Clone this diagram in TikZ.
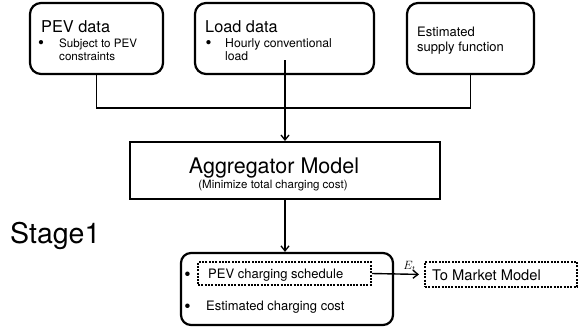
\documentclass[tikz,border=0pt]{standalone}
\usepackage{fontspec}
\setmainfont{TeX Gyre Heros}
\usetikzlibrary{arrows.meta}
\tikzset{
  rbox/.style={draw, line width=2.2pt, rounded corners=11pt, inner sep=0pt},
  sbox/.style={draw, line width=2pt, inner sep=0pt},
  dbox/.style={draw, line width=2pt, dash pattern=on 2pt off 1.3pt, inner sep=0pt},
  conn/.style={line width=1.4pt},
  arr/.style={line width=1.4pt, -{Straight Barb[length=5pt,width=8pt,line width=1.3pt]}},
  txt/.style={anchor=base west, inner sep=0pt},
  bul/.style={anchor=base, inner sep=0pt},
}
\newcommand{\fs}[1]{\fontsize{#1}{#1}\selectfont}
\begin{document}
\begin{tikzpicture}[x=1pt,y=-1pt]
\useasboundingbox (0,0) rectangle (579,327);
% top boxes
\node[rbox, minimum width=133pt, minimum height=71pt] (pev) at (96.5,38.5) {};
\node[rbox, minimum width=179pt, minimum height=71pt] (load) at (284.5,38.5) {};
\node[rbox, minimum width=127pt, minimum height=71pt] (sup) at (470.5,38.5) {};
\node[txt, font=\fs{16.3}] (pevt) at (41,32) {PEV data};
\node[bul, font=\fs{17}] (b1) at (41,48.8) {•};
\node[txt, font=\fs{11.6}] (pev1) at (59,47) {Subject to PEV};
\node[txt, font=\fs{11.6}] (pev2) at (59,60.5) {constraints};
\node[txt, font=\fs{16.3}] (loadt) at (205,32) {Load data};
\node[bul, font=\fs{17}] (b2) at (208.5,48.8) {•};
\node[txt, font=\fs{12.2}] (load1) at (225,47) {Hourly conventional};
\node[txt, font=\fs{12.2}] (load2) at (225,60.5) {load};
\node[txt, font=\fs{13}] (sup1) at (417,36.7) {Estimated};
\node[txt, font=\fs{13}] (sup2) at (417,51) {supply function};
% aggregator
\node[sbox, minimum width=310pt, minimum height=57pt] (agg) at (285,170.5) {};
\node[anchor=base, inner sep=0pt, font=\fs{21.5}] (aggt) at (274,173) {Aggregator Model};
\node[anchor=base, inner sep=0pt, font=\fs{11.5}] (aggs) at (273,188) {(Minimize total charging cost)};
% stage
\node[txt, font=\fs{28.5}] (stage) at (10,243) {Stage1};
% bottom box
\node[rbox, rounded corners=10pt, minimum width=212pt, minimum height=72pt] (out) at (287,289) {};
\node[dbox, minimum width=173pt, minimum height=23pt] (sched) at (284.5,273.5) {};
\node[bul, font=\fs{18}] (b3) at (187.5,280) {•};
\node[txt, font=\fs{13}] (schedt) at (208,278) {PEV charging schedule};
\node[bul, font=\fs{18}] (b4) at (187.5,312) {•};
\node[txt, font=\fs{13}] (cost) at (206,310) {Estimated charging cost};
\node[dbox, minimum width=152pt, minimum height=25pt] (mkt) at (501,274.5) {};
\node[txt, font=\fs{14.7}] (mktt) at (432,280) {To Market Model};
% connectors
\coordinate (jn) at (285,108);
\coordinate (ld) at (285,60);
\draw[conn] (pev.south) -- (pev.south |- jn) -- (sup.south |- jn) -- (sup.south);
\draw[arr] (ld) -- (agg.north -| ld);
\draw[arr] (agg.south -| ld) -- (out.north -| ld);
\draw[arr, shorten >=5pt] (sched.east) -- node[above, inner sep=2pt, font=\fs{12}, pos=0.72] (et) {$E_t$} (mkt.west);
\end{tikzpicture}
\end{document}
